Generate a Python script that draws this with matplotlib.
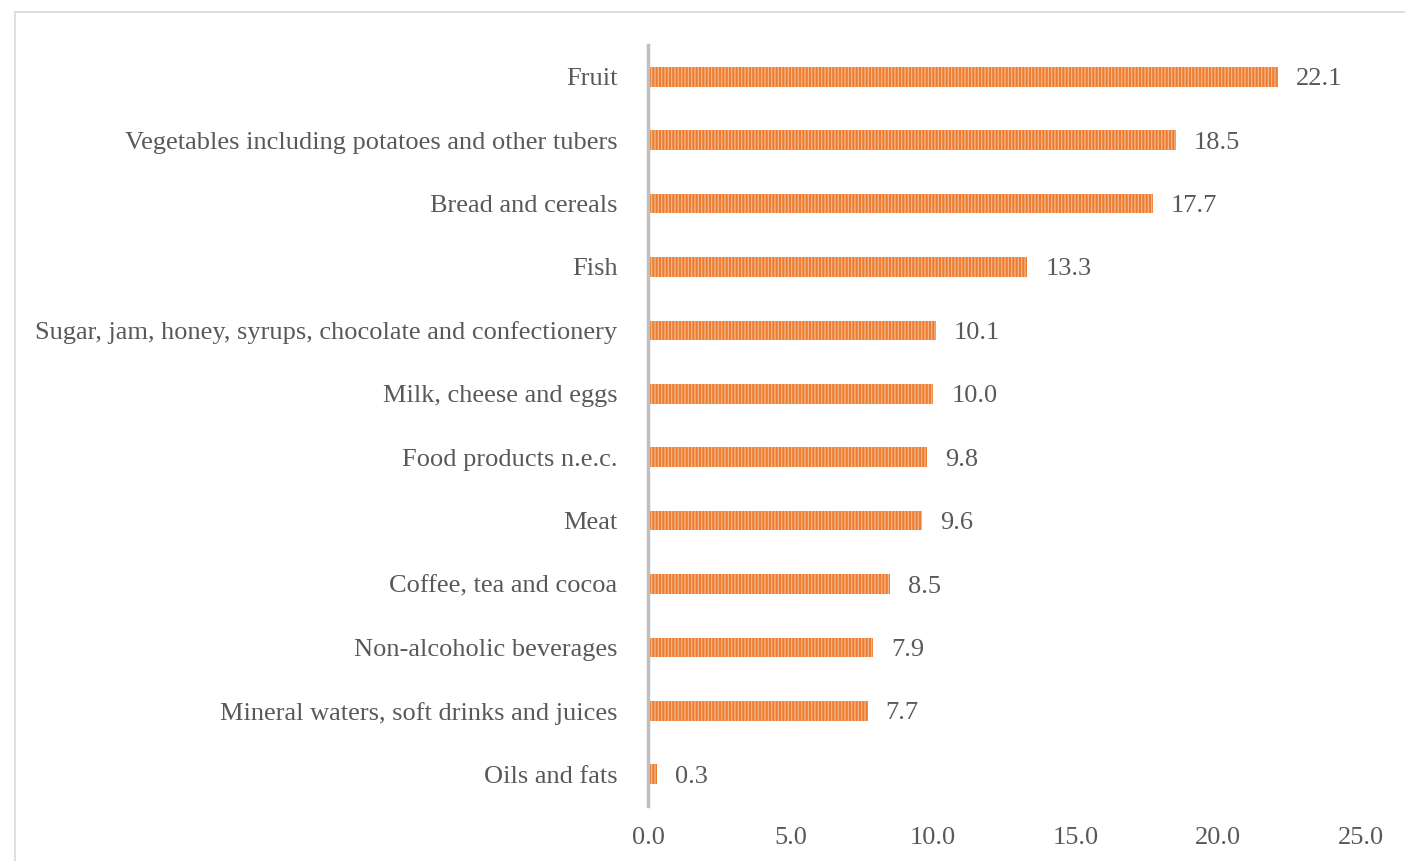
import matplotlib
matplotlib.use("Agg")
import matplotlib.pyplot as plt
from matplotlib.patches import Rectangle

categories = [
    "Fruit",
    "Vegetables including potatoes and other tubers",
    "Bread and cereals",
    "Fish",
    "Sugar, jam, honey, syrups, chocolate and confectionery",
    "Milk, cheese and eggs",
    "Food products n.e.c.",
    "Meat",
    "Coffee, tea and cocoa",
    "Non-alcoholic beverages",
    "Mineral waters, soft drinks and juices",
    "Oils and fats",
]
values = [22.1, 18.5, 17.7, 13.3, 10.1, 10.0, 9.8, 9.6, 8.5, 7.9, 7.7, 0.3]
x_ticks = [0, 5, 10, 15, 20, 25]

plt.rcParams["font.family"] = ["Liberation Serif", "DejaVu Serif"]
plt.rcParams["hatch.linewidth"] = 0.8
plt.rcParams["hatch.color"] = "#F6BE95"

text_color = "#595959"
bar_color = "#ED7D31"
fs = 19

fig = plt.figure(figsize=(14.05, 8.61), dpi=100)
ax = fig.add_axes([648 / 1405, 1 - 806 / 861, (1361 - 648) / 1405, (806 - 45) / 861])

ypos = list(range(len(categories)))
ax.barh(ypos, values, height=0.31, color=bar_color, hatch="|||||",
        edgecolor="#F6BE95", linewidth=0)

for y, v in zip(ypos, values):
    ax.annotate(f"{v:.1f}", xy=(v, y), xytext=(13, 0), textcoords="offset points",
                va="center_baseline", ha="left", fontsize=fs, color=text_color)

ax.set_xlim(0, 25)
ax.set_ylim(len(categories) - 0.5, -0.5)
ax.set_yticks(ypos)
ax.set_yticklabels(categories, fontsize=fs, color=text_color, va="center_baseline")
ax.set_xticks(x_ticks)
ax.set_xticklabels([f"{t:.1f}" for t in x_ticks], fontsize=fs, color=text_color)
ax.tick_params(axis="y", length=0, pad=22)
ax.tick_params(axis="x", length=0, pad=15)

for side in ("top", "right", "bottom"):
    ax.spines[side].set_visible(False)
ax.spines["left"].set_color("#BFBFBF")
ax.spines["left"].set_linewidth(2.5)

# light outer frame around the chart area
fig.patches.append(Rectangle((15 / 1405, -0.05), 1.1, 1 - 12 / 861 + 0.05,
                             transform=fig.transFigure, fill=False,
                             edgecolor="#D9D9D9", linewidth=1.2))

fig.savefig("out.png", dpi=100)
